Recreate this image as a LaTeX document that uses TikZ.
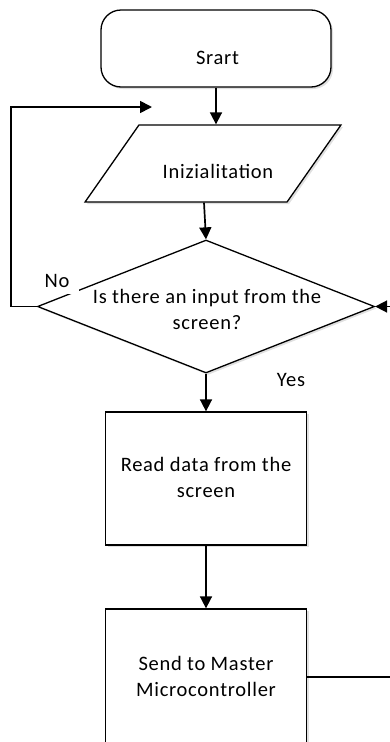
\documentclass[tikz,border=0pt]{standalone}
\usepackage{fontspec}
\setmainfont[LetterSpace=3.5]{Carlito}
\usetikzlibrary{shapes.geometric,arrows.meta,shadows}

\begin{document}
\begin{tikzpicture}[x=1pt,y=-1pt,
  font=\fontsize{20.5}{26}\selectfont,
  box/.style={draw=black, line width=1.3pt, fill=white,
    drop shadow={shadow xshift=2pt, shadow yshift=-2pt, opacity=0.12, fill=black}},
  txt/.style={align=center, inner sep=0pt},
  conn/.style={line width=1.7pt, -{Triangle[length=12pt,width=12pt]}}]
\useasboundingbox (0,0) rectangle (389,742);

% flow shapes
\node[box, rectangle, rounded corners=20pt, minimum width=230pt, minimum height=77pt]
  (start) at (216,48.5) {};
\node[box, trapezium, trapezium left angle=70, trapezium right angle=110,
  trapezium stretches=true, minimum width=256pt, minimum height=77pt, inner sep=2pt]
  (init) at (213,163.5) {};
\node[box, diamond, minimum width=337pt, minimum height=133pt, inner sep=1pt]
  (dia) at (206,306.5) {};
\node[box, rectangle, minimum width=201pt, minimum height=133pt]
  (read) at (206,478.5) {};
\node[box, rectangle, minimum width=201pt, minimum height=136pt]
  (send) at (206,677) {};

% texts
\node[txt] (tstart) at (217.5,57.5) {Srart};
\node[txt] (tinit) at (218,171) {Inizialitation};
\node[txt] (tdia) at (207,309.5) {Is there an input from the\\screen?};
\node[txt] (tread) at (206,477) {Read data from the\\screen};
\node[txt] (tsend) at (206,676) {Send to Master\\Microcontroller};

% branch labels
\node[fill=white, inner sep=0pt, minimum width=44pt, minimum height=25pt] (lno) at (57,281) {No};
\node[txt] (lyes) at (291,380) {Yes};

% connectors
\coordinate (noend) at (152,107);
\coordinate (rc) at (400,306.5);
\draw[conn] (start.south) -- (start.south |- init.north);
\draw[conn] ([xshift=-9pt]init.south) -- (dia.north);
\draw[conn] (dia.west) -- ++(-26,0) |- (noend);
\draw[conn] (dia.south) -- (dia.south |- read.north);
\draw[conn] (read.south) -- (read.south |- send.north);
\draw[conn] (send.east) -| (rc) -- (dia.east);
\end{tikzpicture}
\end{document}
